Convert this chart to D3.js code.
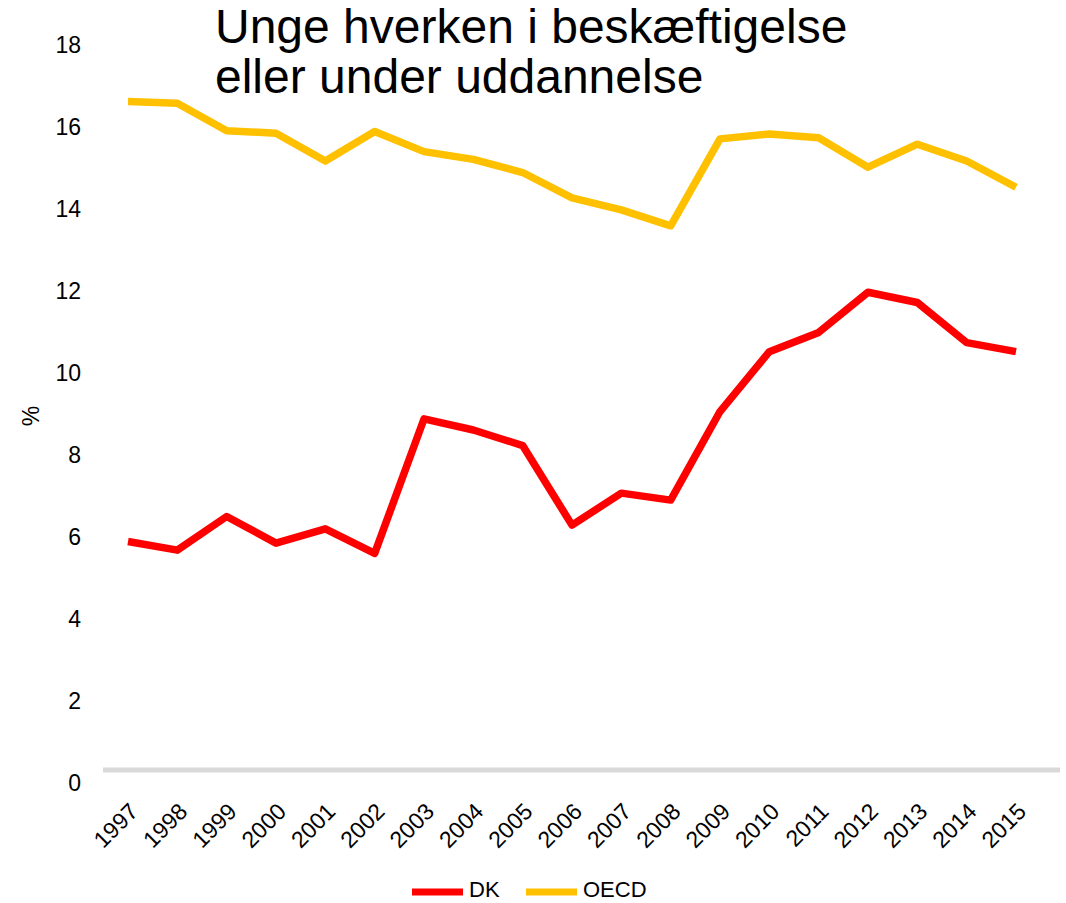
<!DOCTYPE html>
<html>
<head>
<meta charset="utf-8">
<script src="https://cdn.jsdelivr.net/npm/d3@7"></script>
<style>
  body { margin: 0; background: #fff; }
  .chart { width: 1066px; height: 903px; }
  text { font-family: "Liberation Sans", Arial, sans-serif; fill: #000; }
</style>
</head>
<body>
<div class="chart"></div>
<script>
// data
const years = ["1997", "1998", "1999", "2000", "2001", "2002", "2003", "2004", "2005", "2006",
  "2007", "2008", "2009", "2010", "2011", "2012", "2013", "2014", "2015"];

const dkValues = [5.89, 5.68, 6.50, 5.85, 6.20, 5.60, 8.88, 8.61, 8.23, 6.29,
  7.07, 6.90, 9.06, 10.52, 10.99, 11.97, 11.72, 10.74, 10.52];

const oecdValues = [16.62, 16.58, 15.91, 15.85, 15.17, 15.89, 15.40, 15.21, 14.89, 14.27,
  13.98, 13.59, 15.71, 15.83, 15.74, 15.02, 15.58, 15.17, 14.53];

const yTicks = [0, 2, 4, 6, 8, 10, 12, 14, 16, 18];

const seriesNames = ["DK", "OECD"];
const seriesColors = ["#ff0000", "#ffc000"];

const titleLines = ["Unge hverken i beskæftigelse", "eller under uddannelse"];

let chart = {};

init();

function init() {
  chart.series = [dkValues, oecdValues];

  chart.svg = d3.select(".chart").append("svg")
    .attr("width", 1066)
    .attr("height", 903);

  setScales();
  drawAxes();
  drawLines();
  drawTitle();
  drawLegend();
}

function setScales() {
  chart.x = d3.scalePoint()
    .domain(years)
    .range([128, 1016]);

  chart.y = d3.scaleLinear()
    .domain([0, 18])
    .range([783, 45]);
}

function drawAxes() {
  //light grey baseline under the plot
  chart.svg.append("line")
    .attr("x1", 103)
    .attr("x2", 1060)
    .attr("y1", 770)
    .attr("y2", 770)
    .attr("stroke", "#d9d9d9")
    .attr("stroke-width", 5);

  //y axis: labels only
  const yAxis = d3.axisLeft(chart.y)
    .tickValues(yTicks)
    .tickSize(0)
    .tickPadding(0);

  const yg = chart.svg.append("g")
    .attr("transform", "translate(81,0)")
    .call(yAxis);
  yg.select(".domain").remove();
  yg.selectAll("text")
    .attr("font-size", 23)
    .attr("font-family", "Liberation Sans, Arial, sans-serif")
    .attr("fill", "#000");

  //x axis: rotated year labels
  const xAxis = d3.axisBottom(chart.x)
    .tickSize(0)
    .tickPadding(0);

  const xg = chart.svg.append("g")
    .attr("transform", "translate(0,813)")
    .call(xAxis);
  xg.select(".domain").remove();
  xg.selectAll("text")
    .attr("font-size", 23)
    .attr("font-family", "Liberation Sans, Arial, sans-serif")
    .attr("fill", "#000")
    .attr("text-anchor", "end")
    .attr("dy", 0)
    .attr("y", 0)
    .attr("transform", "translate(11,0) rotate(-45)");

  chart.svg.append("text")
    .attr("transform", "translate(31,416) rotate(-90)")
    .attr("text-anchor", "middle")
    .attr("dy", "0.35em")
    .attr("font-size", 23)
    .text("%");
}

function drawLines() {
  const line = d3.line()
    .x((d, i) => chart.x(years[i]))
    .y(d => chart.y(d));

  chart.svg.selectAll("path.series")
    .data(chart.series)
    .enter().append("path")
    .attr("class", "series")
    .attr("d", line)
    .attr("fill", "none")
    .attr("stroke", (d, i) => seriesColors[i])
    .attr("stroke-width", 7.5)
    .attr("stroke-linejoin", "round");
}

function drawTitle() {
  chart.svg.selectAll("text.title")
    .data(titleLines)
    .enter().append("text")
    .attr("class", "title")
    .attr("x", 215)
    .attr("y", (d, i) => 43 + i * 50)
    .attr("font-size", 48)
    .text(d => d);
}

function drawLegend() {
  const legendX = [412, 526];
  const g = chart.svg.selectAll("g.legend")
    .data(seriesNames)
    .enter().append("g")
    .attr("class", "legend")
    .attr("transform", (d, i) => `translate(${legendX[i]},892)`);

  g.append("line")
    .attr("x1", 0)
    .attr("x2", 51)
    .attr("stroke", (d, i) => seriesColors[i])
    .attr("stroke-width", 7);

  g.append("text")
    .attr("x", 57)
    .attr("y", 5)
    .attr("font-size", 22)
    .text(d => d);
}
</script>
</body>
</html>
